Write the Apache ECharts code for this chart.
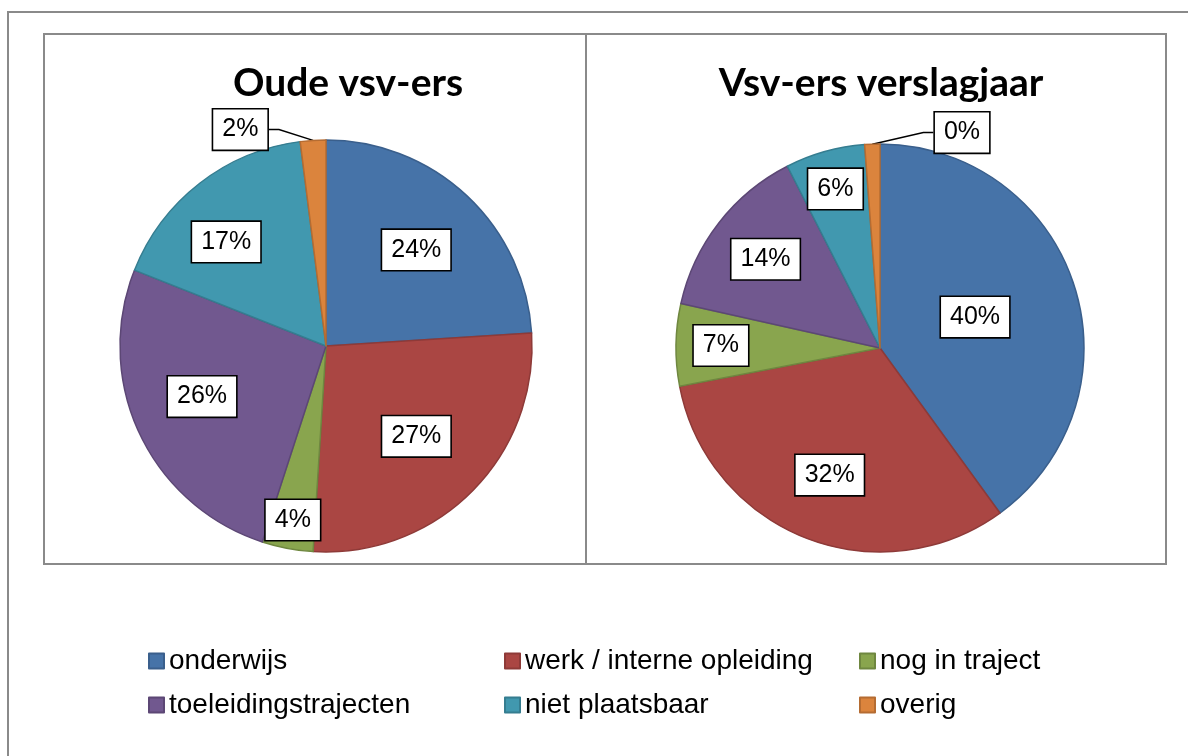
<!DOCTYPE html>
<html>
<head>
<meta charset="utf-8">
<script src="https://cdn.jsdelivr.net/npm/echarts@6/dist/echarts.min.js"></script>
<style>
  html, body { margin: 0; padding: 0; background: #fff; }
  #main { width: 1188px; height: 756px; }
</style>
</head>
<body>
<div id="main"></div>
<script>
// categorieën
const categories = ['onderwijs', 'werk / interne opleiding', 'nog in traject', 'toeleidingstrajecten', 'niet plaatsbaar', 'overig'];
// Oude vsv-ers (percentages)
const oudeValues = [24, 27, 4, 26, 17, 2];
const oudeLabels = ['24%', '27%', '4%', '26%', '17%', '2%'];
// Vsv-ers verslagjaar (slice sizes as drawn, labels as printed)
const nieuwValues = [40, 32, 6.5, 14, 6.3, 1.2];
const nieuwLabels = ['40%', '32%', '7%', '14%', '6%', '0%'];

const colors = ['#4673a8', '#aa4643', '#89a54e', '#71588f', '#4198af', '#db843d'];
const borders = ['#3a5f8c', '#8e3a38', '#6f8740', '#5c4775', '#357d90', '#b56c32'];

const chart = echarts.init(document.getElementById('main'));

const labelFont = "'Liberation Sans', Arial, sans-serif";

// where each label sits: fraction of radius + extra turn (degrees) from mid angle
function makeLabelLayout(values, cx, cy, R, radii, turns) {
    const total = values.reduce((a, b) => a + b, 0);
    return function (params) {
        const i = params.dataIndex;
        let cum = 0;
        for (let k = 0; k < i; k++) cum += values[k];
        const mid = (cum + values[i] / 2) / total * 360 + (turns[i] || 0);
        const a = mid * Math.PI / 180;
        return {
            x: cx + radii[i] * R * Math.sin(a),
            y: cy - radii[i] * R * Math.cos(a),
            align: 'center',
            verticalAlign: 'middle'
        };
    };
}

function buildData(values, labels, outsideIdx) {
    return values.map((v, i) => {
        const item = {
            name: categories[i],
            value: v,
            itemStyle: { color: colors[i], borderColor: borders[i], borderWidth: 1.5 },
            label: { formatter: labels[i] }
        };
        if (i === outsideIdx) {
            item.label.position = 'outside';
            item.labelLine = { show: true, length: 10, length2: 10, lineStyle: { color: '#000', width: 1.5 } };
        }
        return item;
    });
}

const boxLabel = {
    show: true,
    position: 'inside',
    color: '#000',
    fontFamily: labelFont,
    fontSize: 25,
    backgroundColor: '#fff',
    borderColor: '#000',
    borderWidth: 1.6,
    padding: [8, 9, 7, 9]
};

const legendText = { fontFamily: labelFont, fontSize: 28, color: '#000', lineHeight: 30 };
const legendBase = {
    orient: 'vertical',
    top: 641,
    itemWidth: 15,
    itemHeight: 15,
    itemGap: 14,
    icon: 'rect',
    selectedMode: false,
    textStyle: legendText
};

const option = {
    backgroundColor: '#fff',
    animation: false,
    graphic: [
        { type: 'rect', shape: { x: 8, y: 12, width: 1200, height: 760 }, style: { fill: 'none', stroke: '#8a8a8a', lineWidth: 2 }, z: -1 },
        { type: 'rect', shape: { x: 44, y: 34, width: 1122, height: 530 }, style: { fill: 'none', stroke: '#8a8a8a', lineWidth: 2 }, z: -1 },
        { type: 'line', shape: { x1: 586, y1: 34, x2: 586, y2: 564 }, style: { stroke: '#8a8a8a', lineWidth: 2 }, z: -1 }
    ],
    title: [
        {
            text: 'Oude vsv-ers', left: 343, top: 59, textAlign: 'center',
            textStyle: { fontFamily: 'Lato', fontWeight: 'bold', fontSize: 39, color: '#000' }
        },
        {
            text: 'Vsv-ers verslagjaar', left: 876, top: 59, textAlign: 'center',
            textStyle: { fontFamily: 'Lato', fontWeight: 'bold', fontSize: 39, color: '#000' }
        }
    ],
    legend: [
        Object.assign({}, legendBase, { left: 143, data: [categories[0], categories[3]] }),
        Object.assign({}, legendBase, { left: 499, data: [categories[1], categories[4]] }),
        Object.assign({}, legendBase, { left: 854, data: [categories[2], categories[5]] })
    ],
    series: [
        {
            type: 'pie',
            center: [326, 346],
            radius: 206,
            startAngle: 90,
            avoidLabelOverlap: false,
            label: boxLabel,
            labelLine: { show: false },
            labelLayout: makeLabelLayout(oudeValues, 326, 346, 206,
                [0.64, 0.62, 0.86, 0.65, 0.70, 1.13], [0, 0, 0, 3, -6, -18]),
            data: buildData(oudeValues, oudeLabels, 5)
        },
        {
            type: 'pie',
            center: [880, 348],
            radius: 204,
            startAngle: 90,
            avoidLabelOverlap: false,
            label: boxLabel,
            labelLine: { show: false },
            labelLayout: makeLabelLayout(nieuwValues, 880, 348, 204,
                [0.49, 0.67, 0.78, 0.71, 0.81, 1.13], [0, 0, 0, 0, 0, 23]),
            data: buildData(nieuwValues, nieuwLabels, 5)
        }
    ]
};

chart.setOption(option);
</script>
</body>
</html>
